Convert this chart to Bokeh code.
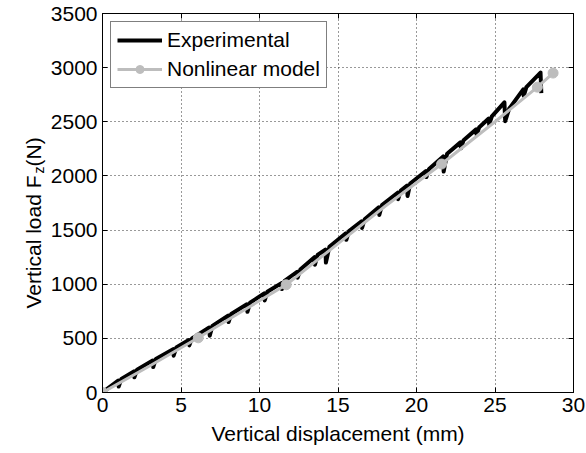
import math
from bokeh.plotting import figure
from bokeh.layouts import row
from bokeh.models import Range1d, LinearAxis, Label, Legend, LegendItem, FixedTicker
from bokeh.embed import file_html
from bokeh.resources import INLINE

# ---- data ----
x_ticks = [0, 5, 10, 15, 20, 25, 30]
y_ticks = [0, 500, 1000, 1500, 2000, 2500, 3000, 3500]

exp_x = [0.0,
         1.0, 1.03, 1.2,
         2.0, 2.03, 2.2,
         3.2, 3.23, 3.4,
         4.5, 4.53, 4.7,
         5.5, 5.53, 5.7,
         6.8, 6.83, 7.0,
         8.0, 8.03, 8.2,
         9.2, 9.23, 9.4,
         10.3, 10.33, 10.5,
         11.4, 11.43, 11.6,
         12.4, 12.43, 12.6,
         13.5, 13.53, 13.7,
         14.2, 14.23, 14.45,
         15.5, 15.53, 15.7,
         16.5, 16.53, 16.7,
         17.6, 17.63, 17.8,
         18.8, 18.83, 19.0,
         19.4, 19.43, 19.6,
         20.6, 20.63, 20.8,
         21.7, 21.73, 21.95,
         22.8, 22.83, 23.0,
         23.8, 23.83, 24.0,
         24.6, 24.63, 24.8,
         25.6, 25.65, 25.9,
         26.8, 26.83, 27.0,
         27.9, 27.95]
exp_y = [0,
         110, 55, 125,
         195, 140, 210,
         295, 235, 310,
         400, 340, 415,
         485, 435, 500,
         600, 525, 615,
         710, 650, 725,
         815, 745, 830,
         915, 850, 930,
         1010, 955, 1030,
         1115, 1060, 1135,
         1250, 1180, 1270,
         1320, 1200, 1345,
         1470, 1410, 1490,
         1580, 1520, 1600,
         1710, 1640, 1730,
         1845, 1785, 1865,
         1910, 1815, 1930,
         2045, 1990, 2065,
         2180, 2040, 2205,
         2310, 2255, 2330,
         2430, 2380, 2450,
         2530, 2475, 2550,
         2680, 2505, 2620,
         2800, 2740, 2820,
         2955, 2765]

model_x = [0, 3, 6.1, 9, 11.7, 15, 18, 21.6, 25, 27.7, 28.7]
model_y = [0, 245, 505, 760, 995, 1375, 1720, 2110, 2500, 2820, 2950]

marker_x = [0, 6.1, 11.7, 21.6, 27.7, 28.7]
marker_y = [0, 505, 995, 2110, 2820, 2950]

FONT = "Liberation Sans"
GRAY = "#bdbdbd"
LAB_W = 46
H = 453

p = figure(frame_width=471, frame_height=379,
           x_range=Range1d(0, 30), y_range=Range1d(0, 3500),
           output_backend="svg", toolbar_location=None,
           min_border_left=102 - LAB_W, min_border_right=13,
           min_border_top=13, min_border_bottom=61,
           background_fill_color="white", border_fill_color="white")
p.outline_line_color = "black"
p.outline_line_width = 1

p.xaxis.ticker = FixedTicker(ticks=x_ticks)
p.yaxis.ticker = FixedTicker(ticks=y_ticks)
for ax in (p.xaxis[0], p.yaxis[0]):
    ax.major_tick_in = 5
    ax.major_tick_out = 0
    ax.minor_tick_in = 0
    ax.minor_tick_out = 0
    ax.major_tick_line_color = "black"
    ax.axis_line_color = "black"
    ax.major_label_text_font = FONT
    ax.major_label_text_font_size = "21px"
    ax.major_label_text_color = "black"
    ax.major_label_standoff = 5

p.xaxis.axis_label = "Vertical displacement (mm)"
p.xaxis.axis_label_text_font = FONT
p.xaxis.axis_label_text_font_size = "21px"
p.xaxis.axis_label_text_font_style = "normal"
p.xaxis.axis_label_text_color = "black"
p.xaxis.axis_label_standoff = 7

# top / right tick marks (box)
top_ax = LinearAxis(ticker=FixedTicker(ticks=x_ticks), major_tick_in=5, major_tick_out=0,
                    minor_tick_in=0, minor_tick_out=0, major_label_text_font_size="0px",
                    major_label_text_color=None, major_label_standoff=0, axis_line_color="black")
right_ax = LinearAxis(ticker=FixedTicker(ticks=y_ticks), major_tick_in=5, major_tick_out=0,
                      minor_tick_in=0, minor_tick_out=0, major_label_text_font_size="0px",
                      major_label_text_color=None, major_label_standoff=0, axis_line_color="black")
p.add_layout(top_ax, "above")
p.add_layout(right_ax, "right")

p.xgrid.ticker = FixedTicker(ticks=x_ticks)
p.ygrid.ticker = FixedTicker(ticks=y_ticks)
p.grid.grid_line_color = "#333333"
p.grid.grid_line_dash = "1 3"
p.grid.grid_line_width = 1

r_exp = p.line(exp_x, exp_y, line_color="black", line_width=4, line_join="round")
r_mod = p.line(model_x, model_y, line_color=GRAY, line_width=3)
r_mk = p.scatter(marker_x, marker_y, size=10, marker="circle", fill_color=GRAY, line_color=GRAY)

legend = Legend(items=[LegendItem(label="Experimental", renderers=[r_exp]),
                       LegendItem(label="Nonlinear model", renderers=[r_mod, r_mk])],
                location="top_left", margin=8, padding=6, spacing=5,
                glyph_width=45, glyph_height=20, label_height=20, label_standoff=5,
                label_text_font=FONT, label_text_font_size="21px", label_text_color="black",
                border_line_color="black", border_line_width=1,
                background_fill_color="white", background_fill_alpha=1)
p.add_layout(legend)

# narrow side figure carrying the rotated y-axis label (with subscript)
q = figure(frame_width=LAB_W, frame_height=H, x_range=Range1d(0, LAB_W), y_range=Range1d(0, H),
           output_backend="svg", toolbar_location=None,
           x_axis_location=None, y_axis_location=None,
           min_border=0, min_border_left=0, min_border_right=0,
           min_border_top=0, min_border_bottom=0,
           background_fill_color="white", border_fill_color="white")
q.grid.visible = False
q.outline_line_color = None

base_x = 33
start_y = H - 295
lab1 = Label(x=base_x, y=start_y, text="Vertical load F", angle=math.pi / 2,
             text_font=FONT, text_font_size="21px", text_color="black",
             text_align="left", text_baseline="alphabetic")
lab2 = Label(x=base_x + 5, y=start_y + 135, text="z", angle=math.pi / 2,
             text_font=FONT, text_font_size="14px", text_color="black",
             text_align="left", text_baseline="alphabetic")
lab3 = Label(x=base_x, y=start_y + 142, text=" (N)", angle=math.pi / 2,
             text_font=FONT, text_font_size="21px", text_color="black",
             text_align="left", text_baseline="alphabetic")
for l in (lab1, lab2, lab3):
    q.add_layout(l)

layout = row(q, p, spacing=0)
open("out.html", "w").write(file_html(layout, INLINE))
